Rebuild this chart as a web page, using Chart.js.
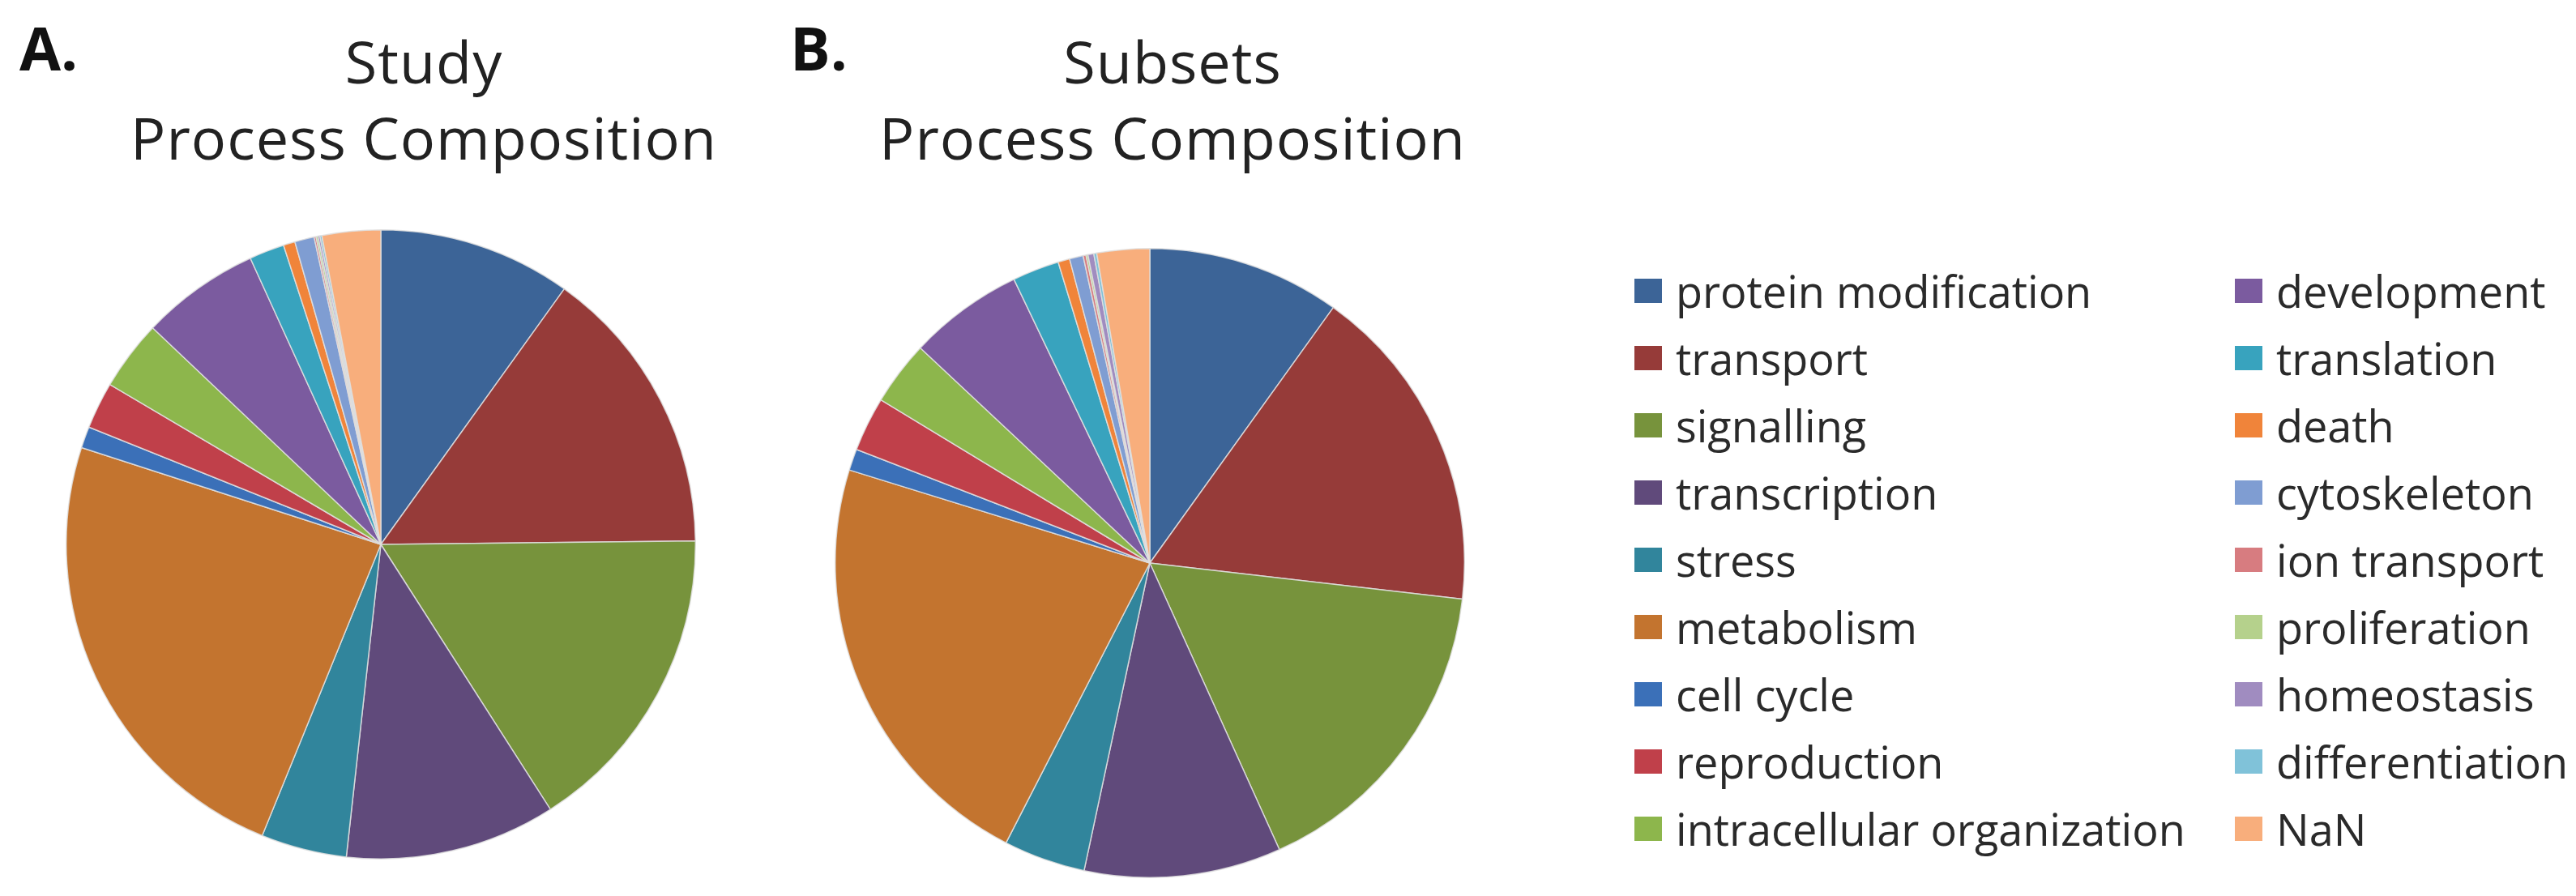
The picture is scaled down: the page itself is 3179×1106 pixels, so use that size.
<!DOCTYPE html>
<html>
<head>
<meta charset="utf-8">
<script src="https://cdn.jsdelivr.net/npm/chart.js@4.4.0/dist/chart.umd.min.js"></script>
<style>
  body { margin: 0; background: #fff; width: 3179px; height: 1106px; overflow: hidden; position: relative; font-family: "Open Sans", sans-serif; }
  .letter { position: absolute; font-weight: bold; font-size: 74px; color: #111; line-height: 1; }
  .title { position: absolute; width: 900px; text-align: center; font-size: 72px; letter-spacing: 1px; color: #222; line-height: 94px; }
  .pie { position: absolute; }
  #legend { position: absolute; left: 2017px; top: 317px; display: grid; grid-template-rows: repeat(9, 83px); grid-auto-flow: column; grid-template-columns: 741px 420px; }
  .item { display: flex; align-items: center; font-size: 54px; color: #2a2a2a; white-space: nowrap; }
  .box { width: 34px; height: 30px; margin-right: 17px; flex: none; }
</style>
</head>
<body>
<div class="letter" style="left:24px; top:22px;">A.</div>
<div class="letter" style="left:975px; top:22px;">B.</div>
<div class="title" style="left:73px; top:28px;">Study<br>Process Composition</div>
<div class="title" style="left:997px; top:28px;">Subsets<br>Process Composition</div>
<div class="pie" style="left:81px; top:283px; width:778px; height:778px;"><canvas id="pieA"></canvas></div>
<div class="pie" style="left:1030px; top:306px; width:778px; height:778px;"><canvas id="pieB"></canvas></div>
<div id="legend"></div>
<script>
const categories = ['protein modification', 'transport', 'signalling', 'transcription', 'stress',
  'metabolism', 'cell cycle', 'reproduction', 'intracellular organization', 'development',
  'translation', 'death', 'cytoskeleton', 'ion transport', 'proliferation', 'homeostasis',
  'differentiation', 'NaN'];
const studyValues = [9.9, 14.9, 16.1, 10.8, 4.4, 23.8, 1.1, 2.4, 3.6, 6.1, 1.8, 0.6, 1.0, 0.1, 0.1, 0.1, 0.1, 3.0];
const subsetValues = [9.9, 16.9, 16.4, 10.1, 4.2, 22.2, 1.1, 2.8, 3.3, 5.9, 2.4, 0.6, 0.7, 0.15, 0.1, 0.3, 0.15, 2.7];
const colors = ['#3c6497', '#963b39', '#77933c', '#604a7b', '#31859c', '#c3742f', '#3b70b8',
  '#c0404a', '#8db64c', '#7b5b9f', '#38a3be', '#f0843a', '#7f9dd2', '#d77c80', '#b5d18c',
  '#a08cc0', '#80c2d9', '#f8ae7c'];

function makePie(id, values) {
  new Chart(document.getElementById(id), {
    type: 'pie',
    data: {
      labels: categories,
      datasets: [{
        data: values,
        backgroundColor: colors,
        borderColor: 'rgba(225,225,225,0.85)',
        borderWidth: 1.5
      }]
    },
    options: {
      responsive: true,
      maintainAspectRatio: false,
      animation: false,
      layout: { padding: 0 },
      plugins: { legend: { display: false }, tooltip: { enabled: false } }
    }
  });
}
makePie('pieA', studyValues);
makePie('pieB', subsetValues);

// legend, two columns filled top to bottom
const legend = document.getElementById('legend');
categories.forEach(function(c, i) {
  const item = document.createElement('div');
  item.className = 'item';
  item.innerHTML = '<span class="box" style="background:' + colors[i] + '"></span>' + c;
  legend.appendChild(item);
});
</script>
</body>
</html>
